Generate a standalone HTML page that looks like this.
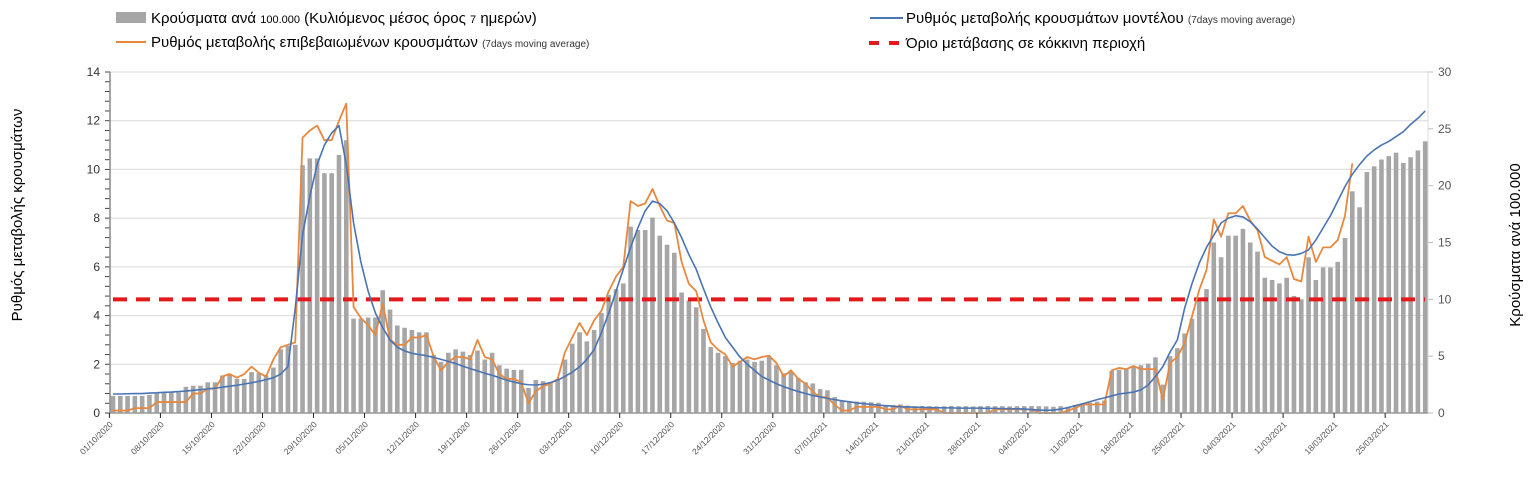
<!DOCTYPE html>
<html><head><meta charset="utf-8"><style>
html,body{margin:0;padding:0;background:#fff;}
svg{display:block;font-family:"Liberation Sans","DejaVu Sans",sans-serif;}
</style></head><body>
<svg id="chart" width="1540" height="496" viewBox="0 0 1540 496" xmlns="http://www.w3.org/2000/svg">
<g>
  <rect x="116" y="12" width="30" height="11" fill="#a6a6a6"/>
  <text x="151" y="23" font-size="15" fill="#000">Κρούσματα ανά <tspan font-size="11">100.000</tspan> (Κυλιόμενος μέσος όρος <tspan font-size="11">7</tspan> ημερών)</text>
  <line x1="116" y1="42" x2="146" y2="42" stroke="#e8883f" stroke-width="2"/>
  <text x="151" y="47" font-size="15" fill="#000">Ρυθμός μεταβολής επιβεβαιωμένων κρουσμάτων <tspan font-size="10" fill="#333">(7days moving average)</tspan></text>
  <line x1="870" y1="18" x2="903" y2="18" stroke="#4a74b4" stroke-width="2"/>
  <text x="906" y="23" font-size="15" fill="#000">Ρυθμός μεταβολής κρουσμάτων μοντέλου <tspan font-size="10" fill="#333">(7days moving average)</tspan></text>
  <line x1="869" y1="43" x2="904" y2="43" stroke="#e31a1c" stroke-width="4" stroke-dasharray="10,10"/>
  <text x="906" y="48" font-size="15" fill="#000">Όριο μετάβασης σε κόκκινη περιοχή</text>
</g>
<text transform="translate(22,215) rotate(-90)" text-anchor="middle" font-size="15" fill="#000">Ρυθμός μεταβολής κρουσμάτων</text>
<text transform="translate(1520,245) rotate(-90)" text-anchor="middle" font-size="15" fill="#000">Κρούσματα ανά 100.000</text>
<g id="grid"></g><g id="bars"></g><g id="lines"></g><g id="axes"></g>
</svg>
<script>
const dateLabels=["01/10/2020","08/10/2020","15/10/2020","22/10/2020","29/10/2020","05/11/2020","12/11/2020","19/11/2020","26/11/2020","03/12/2020","10/12/2020","17/12/2020","24/12/2020","31/12/2020","07/01/2021","14/01/2021","21/01/2021","28/01/2021","04/02/2021","11/02/2021","18/02/2021","25/02/2021","04/03/2021","11/03/2021","18/03/2021","25/03/2021"];
const leftTicks=[0,2,4,6,8,10,12,14];
const rightTicks=[0,5,10,15,20,25,30];
const threshold=10;
const casesPer100k=[1.5,1.5,1.5,1.5,1.5,1.6,1.7,1.8,1.8,1.8,2.3,2.4,2.4,2.7,2.7,3.3,3.4,3.0,3.0,3.6,3.5,3.3,4.0,5.6,5.9,6.0,21.8,22.4,22.4,21.1,21.1,22.7,24.0,8.3,8.3,8.4,8.4,10.8,9.1,7.7,7.5,7.3,7.1,7.1,5.1,
4.5,5.3,5.6,5.4,5.1,5.5,4.7,5.3,4.2,3.9,3.8,3.8,2.2,2.9,2.8,2.6,2.9,4.7,6.1,7.1,6.3,7.3,8.8,10.4,10.9,11.4,16.4,16.1,16.1,17.2,15.6,14.8,14.1,10.6,9.9,9.3,7.4,5.8,5.3,5.0,4.4,4.6,4.7,4.5,
4.6,5.0,4.2,3.5,3.6,3.1,2.7,2.6,2.1,2.0,1.4,1.1,1.0,1.0,1.0,0.95,0.9,0.7,0.7,0.75,0.65,0.6,0.62,0.6,0.58,0.6,0.62,0.6,0.6,0.58,0.6,0.62,0.6,0.6,0.58,0.6,0.6,0.62,0.6,0.58,0.55,0.6,0.55,0.7,0.8,0.9,1.0,1.1,3.7,3.8,
3.85,4.1,4.2,4.35,4.9,2.5,5.0,5.7,7.0,8.3,10.1,10.9,15.0,13.7,15.6,15.6,16.2,15.0,14.2,11.9,11.7,11.4,11.9,10.3,10.0,13.7,11.7,12.8,12.8,13.3,15.4,19.5,18.1,21.2,21.7,22.3,22.6,22.9,22.0,22.5,23.1,23.9];
const confirmedRate=[0.1,0.1,0.1,0.2,0.2,0.2,0.45,0.45,0.45,0.45,0.45,0.8,0.8,1.0,1.0,1.5,1.6,1.45,1.6,1.9,1.65,1.5,2.2,2.7,2.8,2.9,11.3,11.6,11.8,11.2,11.2,12.0,12.7,4.35,3.9,3.6,3.2,4.5,3.0,2.8,2.8,3.1,3.1,3.2,2.3,1.75,
2.1,2.3,2.3,2.2,3.0,2.3,2.2,1.6,1.4,1.4,1.25,0.4,0.9,1.1,1.2,1.4,2.5,3.1,3.7,3.2,3.8,4.2,5.0,5.6,6.0,8.7,8.5,8.6,9.2,8.5,7.9,7.8,6.2,5.3,5.0,3.8,2.9,2.6,2.4,1.9,2.1,2.3,2.2,2.3,
2.35,2.05,1.5,1.75,1.4,1.2,0.87,0.65,0.65,0.33,0.1,0.1,0.25,0.25,0.25,0.25,0.15,0.15,0.3,0.15,0.15,0.15,0.15,0.15,0,0,0,0,0,0,0,0.15,0.15,0.15,0.15,0.15,0.15,0,0,0,0,0.1,0.2,0.35,0.35,0.35,0.35,1.75,1.85,
1.8,1.93,1.8,1.8,1.8,0.53,2.05,2.3,2.87,3.95,5.05,5.87,7.95,7.24,8.2,8.2,8.5,7.9,7.5,6.4,6.25,6.1,6.4,5.5,5.4,7.24,6.2,6.8,6.8,7.1,8.1,10.25];
const modelRate=[0.78,0.78,0.79,0.8,0.8,0.82,0.83,0.85,0.86,0.88,0.9,0.93,0.96,0.99,1.02,1.06,1.1,1.14,1.19,1.24,1.3,1.37,1.45,1.6,1.9,
4.3,7.3,8.9,10.2,11.0,11.5,11.8,10.2,7.8,6.2,5.0,4.1,3.5,3.0,2.7,2.55,2.45,2.4,2.35,2.28,
2.2,2.12,2.03,1.92,1.82,1.73,1.63,1.55,1.45,1.35,1.27,1.2,1.16,1.15,1.18,1.25,1.35,1.5,1.68,1.9,2.2,2.6,3.3,4.1,5.0,5.9,6.8,7.6,8.3,8.7,8.6,8.3,7.8,7.2,6.5,5.9,5.1,4.35,3.7,3.1,2.7,2.3,2.0,1.75,1.5,
1.35,1.2,1.08,0.98,0.88,0.8,0.72,0.66,0.6,0.55,0.5,0.46,0.42,0.38,0.35,0.32,0.3,0.28,0.26,0.25,
0.24,0.23,0.22,0.22,0.21,0.21,0.2,0.2,0.2,0.2,0.19,0.19,0.18,0.18,0.17,0.16,0.14,0.12,0.11,0.12,0.16,0.22,0.3,0.38,0.46,0.55,0.62,0.7,0.78,
0.82,0.86,0.95,1.15,1.5,1.9,2.5,3.0,4.3,5.3,6.15,6.8,7.3,7.8,8.0,8.1,8.05,7.85,7.55,7.2,6.85,6.62,6.5,6.48,6.55,6.7,7.1,7.6,8.1,8.7,9.3,9.8,10.2,10.55,10.8,11.0,11.15,11.35,11.55,11.85,12.1,12.4];

const NS="http://www.w3.org/2000/svg";
const X0=113, DX=7.29, Y0=413, LEFTMAX=14, RIGHTMAX=30, YTOP=72;
const xScale=i=>X0+DX*i;
const yLeft=v=>Y0-(Y0-YTOP)*v/LEFTMAX;
const yRight=v=>Y0-(Y0-YTOP)*v/RIGHTMAX;
function mk(tag,attrs,parent){const e=document.createElementNS(NS,tag);for(const k in attrs)e.setAttribute(k,attrs[k]);parent.appendChild(e);return e;}
const grid=document.getElementById('grid'),bars=document.getElementById('bars'),lines=document.getElementById('lines'),axes=document.getElementById('axes');
const xEnd=1428;
leftTicks.forEach(t=>{
  if(t>0){const g=mk('line',{x1:110,x2:xEnd,y1:yLeft(t),y2:yLeft(t),stroke:'#d9d9d9','stroke-width':1},grid);
  
  }
  const lb=mk('text',{x:100,y:yLeft(t)+4,'text-anchor':'end','font-size':12,fill:'#333'},axes);
  lb.textContent=t;
  
  
});
for(let v=0;v<=LEFTMAX+0.001;v+=0.4){
  mk('line',{x1:105,x2:110,y1:yLeft(v),y2:yLeft(v),stroke:'#444','stroke-width':1},axes);
}
rightTicks.forEach(t=>{
  const lb=mk('text',{x:1438,y:yRight(t)+4,'text-anchor':'start','font-size':12,fill:'#555'},axes);
  lb.textContent=t;
  
  
  mk('line',{x1:1428,x2:1433,y1:yRight(t),y2:yRight(t),stroke:'#bbb'},axes);
});
mk('line',{x1:1428,x2:1428,y1:YTOP,y2:Y0,stroke:'#ddd'},axes);
casesPer100k.forEach((v,i)=>{
  const r=mk('rect',{x:xScale(i)-2.3,y:yRight(v),width:4.6,height:Y0-yRight(v),fill:'#a6a6a6'},bars);
  
  
});
const red=mk('line',{x1:113,x2:1425,y1:yRight(threshold),y2:yRight(threshold),stroke:'#e31a1c','stroke-width':4,'stroke-dasharray':'14,9'},lines);


const oP=mk('polyline',{points:confirmedRate.map((v,i)=>xScale(i)+','+yLeft(v)).join(' '),fill:'none',stroke:'#e8883f','stroke-width':1.8,'stroke-linejoin':'round'},lines);


const bP=mk('polyline',{points:modelRate.map((v,i)=>xScale(i)+','+yLeft(v)).join(' '),fill:'none',stroke:'#4a74b4','stroke-width':1.6,'stroke-linejoin':'round'},lines);


mk('line',{x1:110,x2:110,y1:YTOP,y2:Y0,stroke:'#888','stroke-width':1.5},axes);
mk('line',{x1:110,x2:xEnd,y1:Y0,y2:Y0,stroke:'#999','stroke-width':1.5},axes);
dateLabels.forEach((d,k)=>{
  const tx=xScale(7*k)-3.6;
  mk('line',{x1:tx,x2:tx,y1:Y0,y2:Y0+5,stroke:'#222','stroke-width':1},axes);
  const t=mk('text',{x:0,y:0,'text-anchor':'end','font-size':8.5,fill:'#555',transform:'translate('+(tx+4)+','+(Y0+12)+') rotate(-45)'},axes);
  t.textContent=d;
  
  
});
</script>
</body></html>
